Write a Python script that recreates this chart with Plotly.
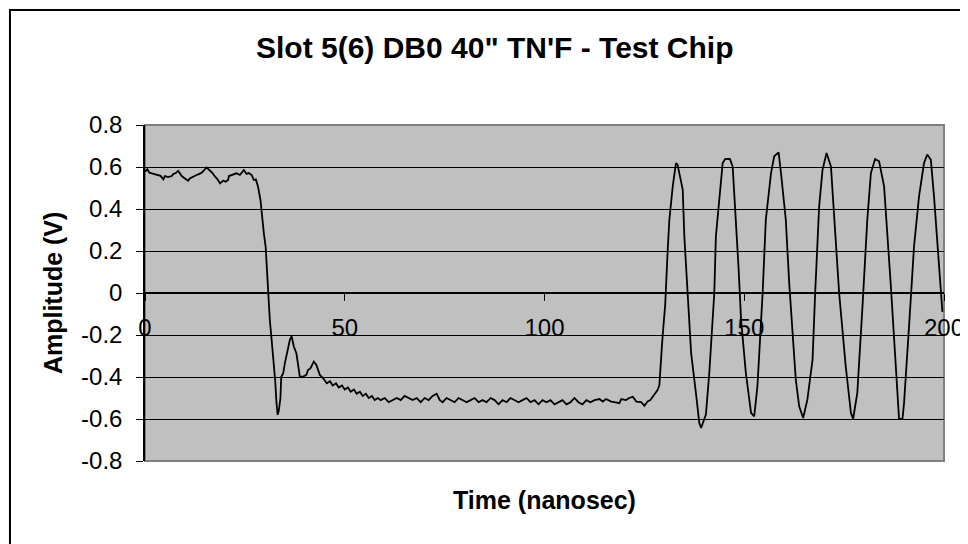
import plotly.graph_objects as go

# waveform (time in ns, amplitude in V)
time_ns = [
    0, 0.6, 1.1, 1.8, 2.5, 3.3, 3.9, 4.6, 5.0, 5.8, 6.7, 7.1, 7.7, 8.3, 9.2, 9.8,
    10.8, 11.2, 11.7, 12.9, 13.5, 14.2, 14.8, 15.4, 16.3, 16.9, 17.5, 18.2, 18.75,
    19.6, 20.2, 20.8, 21.0, 22.0, 22.9, 23.75, 24.2, 24.75, 25.4, 26.0, 26.7, 27.25,
    27.75, 28.3, 28.9, 29.3, 29.75, 30.2, 30.5, 30.8, 31.25, 31.7, 32.2, 32.6, 32.9,
    33.2, 33.5, 33.9, 34.1, 34.6, 35.0, 35.6, 36.25, 36.7, 37.25, 37.9, 38.3, 38.75,
    39.6, 40.4, 40.8, 41.4, 42.25, 42.9, 43.75, 44.6, 45.5, 46.3, 47.0, 47.8, 48.5,
    49.3, 50.0, 50.8, 51.5, 52.3, 53.0, 53.8, 54.5, 55.3, 56.0, 56.8, 57.5, 58.3,
    59.0, 60.0, 61.0, 62.0, 63.0, 64.0, 65.0, 66.0, 67.0, 68.0, 69.0, 70.0, 71.0,
    72.0, 73.0, 73.8, 74.5, 75.5, 76.5, 77.5, 78.5, 79.5, 80.5, 81.5, 82.5, 83.5,
    84.5, 85.5, 86.5, 87.5, 88.5, 89.5, 90.5, 91.5, 92.5, 93.5, 94.5, 95.5, 96.5,
    97.5, 98.5, 99.5, 100.5, 101.5, 102.5, 103.5, 104.5, 105.5, 106.5, 107.5, 108.5,
    109.5, 110.5, 111.5, 112.5, 113.75, 114.6, 115.4, 116.7, 117.5, 118.75, 119.2,
    120.4, 121.2, 122.1, 123.0, 124.2, 125.0, 125.8, 126.5, 127.1, 127.7, 128.3,
    128.75, 129.0, 129.4, 129.8, 130.2, 130.8, 131.25, 132.1, 132.9, 133.3, 134.6,
    135.0, 135.8, 136.7, 137.9, 138.75, 139.2, 140.4, 141.25, 142.5, 142.9, 143.75,
    144.6, 145.25, 146.4, 147.1, 147.9, 148.6, 149.2, 150.4, 151.7, 152.5, 153.3,
    154.6, 155.4, 156.7, 157.5, 158.6, 159.2, 160.4, 161.25, 162.9, 163.75, 164.75,
    165.8, 167.1, 167.75, 168.75, 169.6, 170.6, 171.7, 172.9, 173.75, 175.4, 176.7,
    177.25, 178.3, 179.6, 180.8, 181.7, 182.75, 183.75, 185.0, 186.7, 187.5, 188.75,
    189.6, 190.0, 191.25, 192.5, 193.75, 195.0, 195.8, 196.7, 197.5, 198.75, 199.6,
    200.0,
]
amplitude_v = [
    0.578, 0.589, 0.573, 0.569, 0.567, 0.562, 0.558, 0.541, 0.557, 0.552, 0.557,
    0.567, 0.571, 0.582, 0.557, 0.548, 0.535, 0.545, 0.551, 0.562, 0.566, 0.573,
    0.585, 0.598, 0.582, 0.571, 0.555, 0.540, 0.522, 0.535, 0.530, 0.538, 0.557,
    0.565, 0.570, 0.562, 0.574, 0.586, 0.567, 0.571, 0.562, 0.538, 0.541, 0.506,
    0.443, 0.363, 0.284, 0.220, 0.100, 0.000, -0.130, -0.224, -0.330, -0.420,
    -0.520, -0.580, -0.560, -0.500, -0.400, -0.382, -0.335, -0.280, -0.224, -0.205,
    -0.255, -0.287, -0.350, -0.398, -0.398, -0.390, -0.367, -0.359, -0.327, -0.343,
    -0.390, -0.406, -0.430, -0.420, -0.440, -0.430, -0.450, -0.440, -0.460, -0.450,
    -0.470, -0.460, -0.480, -0.470, -0.490, -0.480, -0.500, -0.490, -0.510, -0.500,
    -0.510, -0.500, -0.520, -0.510, -0.500, -0.510, -0.490, -0.500, -0.510, -0.500,
    -0.520, -0.500, -0.510, -0.490, -0.480, -0.510, -0.520, -0.500, -0.510, -0.520,
    -0.500, -0.510, -0.520, -0.510, -0.500, -0.520, -0.510, -0.520, -0.500, -0.510,
    -0.530, -0.510, -0.520, -0.500, -0.510, -0.520, -0.510, -0.500, -0.520, -0.510,
    -0.530, -0.510, -0.520, -0.510, -0.530, -0.520, -0.510, -0.530, -0.520, -0.500,
    -0.520, -0.530, -0.510, -0.520, -0.510, -0.505, -0.517, -0.505, -0.517, -0.520,
    -0.525, -0.505, -0.510, -0.500, -0.494, -0.517, -0.520, -0.537, -0.517, -0.510,
    -0.494, -0.480, -0.462, -0.440, -0.350, -0.250, -0.150, -0.060, 0.190, 0.349,
    0.508, 0.619, 0.611, 0.492, 0.270, 0.000, -0.286, -0.476, -0.619, -0.643,
    -0.579, -0.381, 0.000, 0.270, 0.429, 0.619, 0.638, 0.638, 0.603, 0.349, 0.111,
    -0.127, -0.381, -0.571, -0.587, -0.444, 0.000, 0.349, 0.571, 0.651, 0.670,
    0.571, 0.349, 0.048, -0.413, -0.540, -0.595, -0.508, -0.317, 0.000, 0.413,
    0.587, 0.667, 0.603, 0.270, 0.000, -0.349, -0.571, -0.600, -0.476, -0.063,
    0.349, 0.571, 0.638, 0.627, 0.508, 0.032, -0.206, -0.600, -0.600, -0.524,
    -0.159, 0.222, 0.460, 0.619, 0.659, 0.635, 0.460, 0.143, -0.090,
]

x_ticks = [0, 50, 100, 150, 200]
y_ticks = [-0.8, -0.6, -0.4, -0.2, 0, 0.2, 0.4, 0.6, 0.8]
y_tick_text = ["-0.8", "-0.6", "-0.4", "-0.2", "0", "0.2", "0.4", "0.6", "0.8"]

FONT = "Liberation Sans, Arial, sans-serif"

trace = go.Scatter(
    x=time_ns,
    y=amplitude_v,
    mode="lines",
    line=dict(color="black", width=1.8),
    showlegend=False,
    hoverinfo="skip",
)

# margins allow for the 8px body margin of the html page
layout = go.Layout(
    width=968,
    height=544,
    margin=dict(l=137, r=32, t=117, b=91),
    paper_bgcolor="white",
    plot_bgcolor="#C0C0C0",
    font=dict(family=FONT, color="black", size=24),
    xaxis=dict(
        range=[0, 200],
        tickvals=x_ticks,
        anchor="free",
        position=0.5,
        showline=True,
        linecolor="black",
        linewidth=1.5,
        ticks="outside",
        ticklen=7,
        tickcolor="black",
        ticklabelstandoff=6,
        showgrid=False,
        zeroline=False,
        tickfont=dict(size=24),
    ),
    yaxis=dict(
        range=[-0.8, 0.8],
        tickvals=y_ticks,
        ticktext=y_tick_text,
        showline=True,
        linecolor="black",
        linewidth=1.5,
        ticks="outside",
        ticklen=7,
        tickcolor="black",
        ticklabelstandoff=9,
        showgrid=True,
        gridcolor="black",
        gridwidth=1,
        zeroline=False,
        tickfont=dict(size=24),
    ),
    shapes=[
        # grey frame round the plot area
        dict(type="rect", xref="paper", yref="paper", x0=0, y0=0, x1=1, y1=1,
             line=dict(color="#808080", width=2), layer="below"),
        # outer chart border (right and bottom run off the page)
        dict(type="rect", xref="paper", yref="paper", x0=-0.169, y0=-0.4,
             x1=1.1, y1=1.342, line=dict(color="black", width=2)),
    ],
    annotations=[
        dict(text="<b>Slot 5(6) DB0 40\" TN'F - Test Chip</b>", xref="paper",
             yref="paper", x=0.438, y=1.232, xanchor="center", yanchor="middle",
             showarrow=False, font=dict(size=30)),
        dict(text="<b>Time (nanosec)</b>", xref="paper", yref="paper", x=0.5,
             y=-0.116, xanchor="center", yanchor="middle", showarrow=False,
             font=dict(size=25)),
        dict(text="<b>Amplitude (V)</b>", xref="paper", yref="paper", x=-0.115,
             y=0.5, xanchor="center", yanchor="middle", textangle=-90,
             showarrow=False, font=dict(size=25)),
    ],
)

fig = go.Figure(data=[trace], layout=layout)
fig.write_html("out.html")
